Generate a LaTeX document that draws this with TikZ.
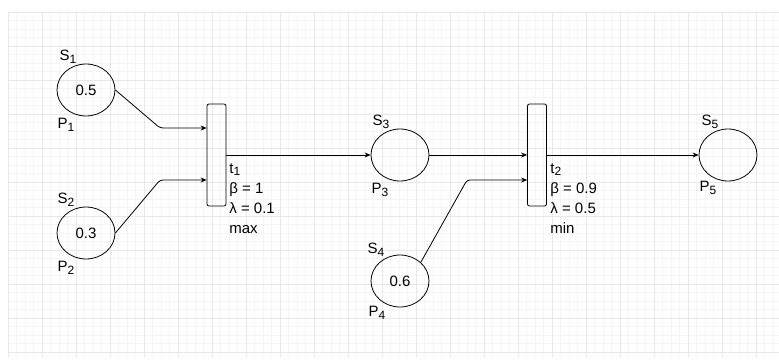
\documentclass[tikz,border=0pt]{standalone}
\usepackage{fontspec}
\setmainfont{Liberation Sans}
\usetikzlibrary{shapes.geometric,arrows.meta}
\newcommand{\lowsub}[1]{\raisebox{-0.35ex}{\fontsize{12}{12}\selectfont #1}}
\begin{document}
\begin{tikzpicture}[x=1pt, y=-1pt, font=\fontsize{15}{20}\selectfont, line width=0.8pt,
	place style/.style={ellipse, draw, minimum width=58pt, minimum height=52pt, inner sep=0pt},
	trans style/.style={rectangle, draw, rounded corners=2pt, minimum width=19pt, minimum height=102pt, inner sep=0pt},
	name style/.style={inner sep=0pt},
	info style/.style={align=left, anchor=north west, inner sep=0pt},
	arc style/.style={-{Stealth[length=6pt,width=5pt]}, rounded corners=3pt},
	minor style/.style={black!4, line width=0.5pt},
	major style/.style={black!9, line width=0.6pt}]
	\useasboundingbox (0,0) rectangle (779,361);
	% grid
	\foreach \x in {0,...,90}
	\draw[minor style] (8+8.5*\x,12) -- (8+8.5*\x,357);
	\foreach \y in {0,...,40}
	\draw[minor style] (8,12+8.5*\y) -- (779,12+8.5*\y);
	\foreach \x in {0,4,...,88}
	\draw[major style] (8+8.5*\x,12) -- (8+8.5*\x,357);
	\foreach \y in {0,4,...,40}
	\draw[major style] (8,12+8.5*\y) -- (779,12+8.5*\y);
	% places and transitions
	\node[place style] (P1) at (86, 90) {0.5};
	\node[place style] (P2) at (86, 233) {0.3};
	\node[place style] (P3) at (400, 155) {};
	\node[place style] (P4) at (400, 281) {0.6};
	\node[place style] (P5) at (728, 155) {};
	\node[trans style] (T1) at (216.5, 155) {};
	\node[trans style] (T2) at (537, 155) {};
	% names
	\node[name style] (S1) at (68, 57) {S\lowsub{1}};
	\node[name style] (L1) at (66, 125) {P\lowsub{1}};
	\node[name style] (S2) at (66, 200) {S\lowsub{2}};
	\node[name style] (L2) at (66, 268) {P\lowsub{2}};
	\node[name style] (S3) at (381, 122) {S\lowsub{3}};
	\node[name style] (L3) at (380, 190) {P\lowsub{3}};
	\node[name style] (S4) at (376, 250) {S\lowsub{4}};
	\node[name style] (L4) at (377, 313) {P\lowsub{4}};
	\node[name style] (S5) at (710, 122) {S\lowsub{5}};
	\node[name style] (L5) at (708, 188) {P\lowsub{5}};
	\node[info style] (I1) at (229, 163) {t\lowsub{1}\\β = 1\\λ = 0.1\\max};
	\node[info style] (I2) at (550, 163) {t\lowsub{2}\\β = 0.9\\λ = 0.5\\min};
	% arcs
	\coordinate (B1) at (160, 128);
	\coordinate (B2) at (160, 180);
	\coordinate (B4) at (467, 180);
	\draw[arc style] (P1.east) -- (B1) -- (B1 -| T1.west);
	\draw[arc style] (P2.east) -- (B2) -- (B2 -| T1.west);
	\draw[arc style] (P4.north east) -- (B4) -- (B4 -| T2.west);
	\draw[arc style] (T1) -- (P3);
	\draw[arc style] (P3) -- (T2);
	\draw[arc style] (T2) -- (P5);
\end{tikzpicture}
\end{document}
